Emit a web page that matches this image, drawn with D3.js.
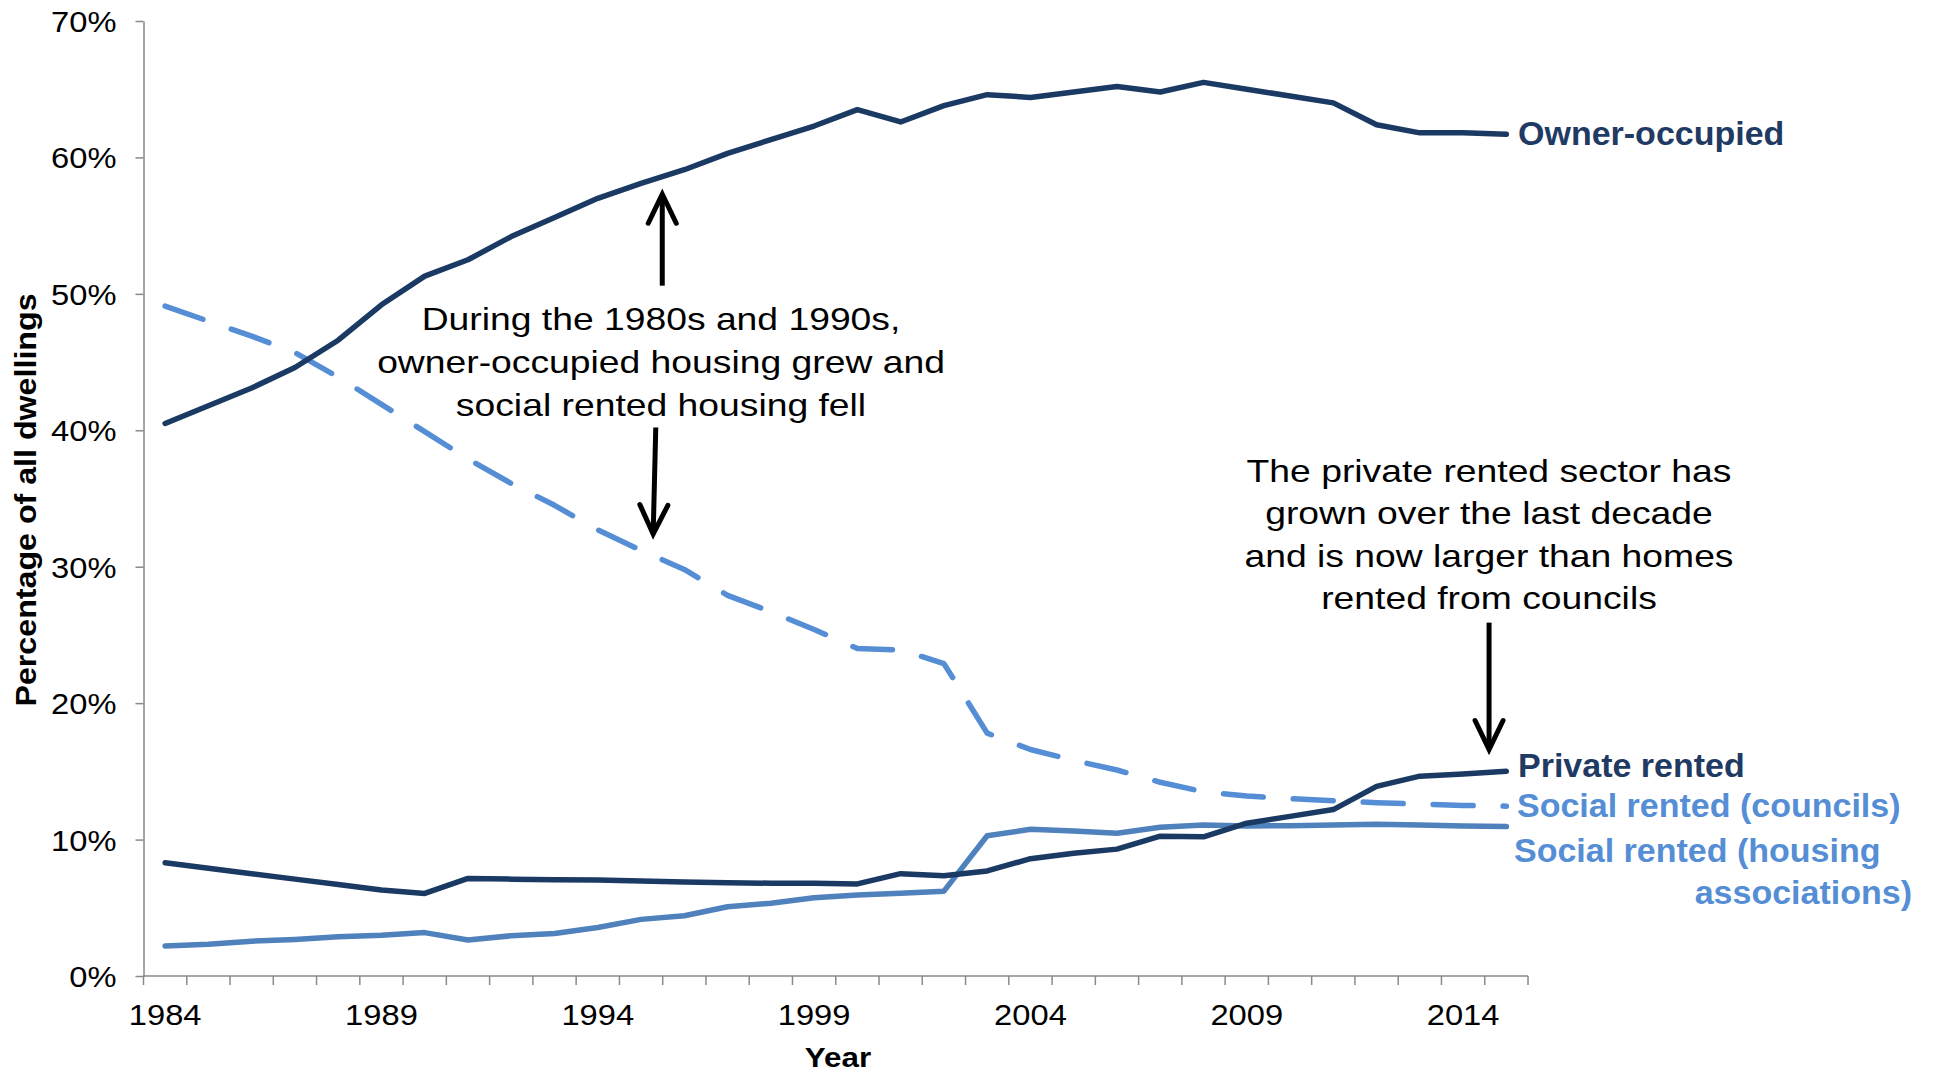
<!DOCTYPE html>
<html><head><meta charset="utf-8">
<script src="https://cdn.jsdelivr.net/npm/d3@7"></script>
<style>
body{margin:0;background:#fff}
svg{display:block;background:#fff}
text{font-family:"Liberation Sans",Arial,sans-serif}
</style>
</head><body>
<svg id="c" width="1936" height="1072"></svg>
<script>
// ---------- DATA ----------
const years = [1984,1985,1986,1987,1988,1989,1990,1991,1992,1993,1994,1995,1996,1997,1998,1999,
               2000,2001,2002,2003,2004,2005,2006,2007,2008,2009,2010,2011,2012,2013,2014,2015];
const ownerOccupied = [40.5,41.8,43.1,44.6,46.6,49.2,51.3,52.5,54.2,55.6,57.0,58.1,59.1,60.3,61.3,62.3,
                       63.5,62.6,63.8,64.6,64.4,64.8,65.2,64.8,65.5,65.0,64.5,64.0,62.4,61.8,61.8,61.7];
const privateRented = [8.3,7.9,7.5,7.1,6.7,6.3,6.05,7.15,7.1,7.05,7.03,6.96,6.89,6.84,6.8,6.79,
                       6.75,7.5,7.35,7.7,8.6,9.0,9.3,10.25,10.2,11.2,11.7,12.2,13.9,14.65,14.8,15.0];
const socialCouncils = [49.1,48.0,46.9,45.7,43.9,41.9,39.9,37.9,36.1,34.5,32.7,31.2,29.8,27.9,26.7,25.4,
                        24.0,23.9,22.9,17.8,16.6,15.8,15.1,14.2,13.5,13.2,13.0,12.85,12.7,12.6,12.5,12.45];
const socialHousingAssoc = [2.2,2.32,2.55,2.68,2.88,2.98,3.18,2.64,2.95,3.12,3.56,4.15,4.42,5.08,5.33,5.74,
                            5.94,6.06,6.22,10.28,10.75,10.63,10.46,10.9,11.07,11.0,11.02,11.07,11.12,11.07,11.0,10.95];
const yTicks = [0,10,20,30,40,50,60,70];
const xTickLabels = [1984,1989,1994,1999,2004,2009,2014];

(function () {
// ---------- LAYOUT ----------
const svg = d3.select("#c");
const pLeft = 143.5, pRight = 1528, pTop = 21, pBottom = 976;
const NAVY = "#1b3a63", LIGHT = "#558ed5", MID = "#4f81bd", AXIS = "#898989";

const x = d3.scaleBand().domain(years).range([pLeft, pRight]).padding(0);
const y = d3.scaleLinear().domain([0, 70]).range([pBottom, pTop]);
const cx = d => x(d) + x.bandwidth() / 2;
const xc = yr => x(years[0]) + x.bandwidth() / 2 + (yr - years[0]) * x.step();

// ---------- Y AXIS ----------
const gy = svg.append("g").attr("transform", `translate(${pLeft},0)`)
  .call(d3.axisLeft(y).tickValues(yTicks).tickFormat(d => d + "%").tickSize(8).tickSizeOuter(0));
gy.select(".domain").attr("stroke", AXIS).attr("stroke-width", 1.5);
gy.selectAll(".tick line").attr("stroke", AXIS).attr("stroke-width", 1.5);
gy.selectAll(".tick text")
  .attr("x", null).attr("dy", "0.35em")
  .attr("transform", "translate(-27,0) scale(1.09,1)")
  .attr("font-size", 30).attr("fill", "#000");

// ---------- X AXIS ----------
const gx = svg.append("g").attr("transform", `translate(0,${pBottom})`);
gx.append("line").attr("x1", pLeft).attr("x2", pRight).attr("y1", 0).attr("y2", 0)
  .attr("stroke", AXIS).attr("stroke-width", 1.5);
const bounds = years.map(d => x(d)).concat([x.range()[1]]);
gx.selectAll("line.tk").data(bounds).join("line").attr("class", "tk")
  .attr("x1", d => d).attr("x2", d => d).attr("y1", 0).attr("y2", 9)
  .attr("stroke", AXIS).attr("stroke-width", 1.5);
const gxl = svg.append("g").attr("transform", `translate(0,${pBottom})`)
  .call(d3.axisBottom(x).tickValues(xTickLabels).tickSize(0));
gxl.select(".domain").remove();
gxl.selectAll(".tick text")
  .attr("y", null).attr("dy", null)
  .attr("transform", "translate(0,49) scale(1.09,1)")
  .attr("font-size", 30).attr("fill", "#000");

// axis titles
svg.append("text").attr("text-anchor", "middle").attr("font-weight", "bold").attr("font-size", 28)
  .attr("transform", "translate(838,1067) scale(1.12,1)").text("Year");
svg.append("text").attr("text-anchor", "middle").attr("font-weight", "bold").attr("font-size", 29)
  .attr("transform", "translate(36,500) rotate(-90) scale(1.11,1)").text("Percentage of all dwellings");

// ---------- LINES ----------
const line = d3.line().x((d, i) => cx(years[i])).y(d => y(d));
function drawSeries(vals, color, dash) {
  const p = svg.append("path").datum(vals).attr("d", line)
    .attr("fill", "none").attr("stroke", color).attr("stroke-width", 5.5)
    .attr("stroke-linecap", "round").attr("stroke-linejoin", "round");
  if (dash) p.attr("stroke-dasharray", dash);
}
drawSeries(socialCouncils, LIGHT, "40,30");
drawSeries(socialHousingAssoc, MID, null);
drawSeries(privateRented, NAVY, null);
drawSeries(ownerOccupied, NAVY, null);

// ---------- SERIES LABELS ----------
const lab = (txt, xx, yy, color, anchor) => svg.append("text")
  .attr("x", xx).attr("y", yy).attr("text-anchor", anchor || "start")
  .attr("font-weight", "bold").attr("font-size", 34).attr("fill", color).text(txt);
lab("Owner-occupied", 1518, 145, "#1f3a63");
lab("Private rented", 1518, 777, "#1f3a63");
lab("Social rented (councils)", 1517, 817, LIGHT);
lab("Social rented (housing", 1514, 862, LIGHT);
lab("associations)", 1912, 904, LIGHT, "end");

// ---------- ANNOTATIONS ----------
function note(lines, cxp, baselines) {
  lines.forEach((t, i) => svg.append("text").attr("text-anchor", "middle").attr("font-size", 32)
    .attr("fill", "#000").attr("transform", `translate(${cxp},${baselines[i]}) scale(1.165,1)`).text(t));
}
note(["During the 1980s and 1990s,", "owner-occupied housing grew and", "social rented housing fell"],
     661, [330, 373, 416]);
note(["The private rented sector has", "grown over the last decade", "and is now larger than homes", "rented from councils"],
     1489, [481.5, 524, 566.5, 609]);

function arrow(x1, v1, x2, v2) {
  const X1 = xc(x1), Y1 = y(v1), X2 = xc(x2), Y2 = y(v2);
  const ang = Math.atan2(Y2 - Y1, X2 - X1);
  const L = 29, hw = 14;
  const bx = X2 - L * Math.cos(ang), by = Y2 - L * Math.sin(ang);
  const px = -Math.sin(ang) * hw, py = Math.cos(ang) * hw;
  svg.append("path").attr("d", `M${X1},${Y1}L${X2 - 3*Math.cos(ang)},${Y2 - 3*Math.sin(ang)}`)
    .attr("stroke", "#000").attr("stroke-width", 5).attr("fill", "none");
  svg.append("path").attr("d", `M${bx + px},${by + py}L${X2},${Y2}L${bx - px},${by - py}`)
    .attr("stroke", "#000").attr("stroke-width", 5).attr("fill", "none")
    .attr("stroke-linejoin", "miter").attr("stroke-linecap", "round");
}
arrow(1995.49, 50.6, 1995.49, 57.3);
arrow(1995.34, 40.2, 1995.28, 32.4);
arrow(2014.6, 25.9, 2014.6, 16.6);
})();
</script>
</body></html>
